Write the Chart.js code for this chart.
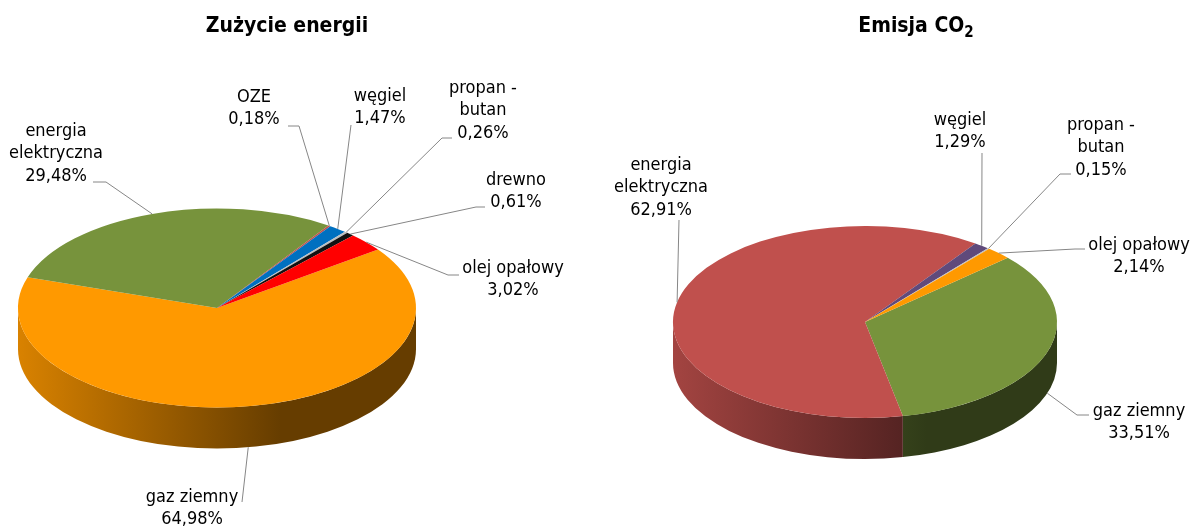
<!DOCTYPE html>
<html lang="pl">
<head>
<meta charset="utf-8">
<title>Zużycie energii i emisja CO2</title>
<script src="https://cdn.jsdelivr.net/npm/chart.js@4"></script>
<style>
    html, body { margin: 0; padding: 0; background: #fff; }
    #page { position: relative; width: 1193px; height: 527px; overflow: hidden; }
    canvas { position: absolute; top: 0; }
    #energyChart { left: 0; }
    #co2Chart { left: 596px; }
    .title {
        position: absolute;
        top: 13px;
        transform: translateX(-50%);
        font: bold 21px "DejaVu Sans Condensed", "DejaVu Sans", sans-serif;
        color: #000;
        white-space: nowrap;
        line-height: 24px;
    }
    .title sub { font-size: 15px; line-height: 0; }
</style>
</head>
<body>
<div id="page">
    <canvas id="energyChart" width="596" height="527"></canvas>
    <canvas id="co2Chart" width="597" height="527"></canvas>
    <div class="title" style="left:287px">Zużycie energii</div>
    <div class="title" style="left:916px">Emisja CO<sub>2</sub></div>
</div>

<script>
// Data (percent)
const energyLabels = [["gaz ziemny"], ["energia", "elektryczna"], ["OZE"], ["węgiel"], ["propan -", "butan"], ["drewno"], ["olej opałowy"]];
const energyValues = [64.98, 29.48, 0.18, 1.47, 0.26, 0.61, 3.02];
const energyColors = ["#ff9900", "#77933c", "#c0504d", "#0070c0", "#bfbfbf", "#111111", "#ff0000"];

const co2Labels = [["gaz ziemny"], ["energia", "elektryczna"], ["węgiel"], ["propan -", "butan"], ["olej opałowy"]];
const co2Values = [33.51, 62.91, 1.29, 0.15, 2.14];
const co2Colors = ["#77933c", "#c0504d", "#604a7b", "#bfbfbf", "#ff9900"];

// Where each label sits on the canvas: text centre, first line y, leader start and elbow
const energyLabelPos = [
    { x: 192, y: 497, lineX: 242, lineY: 502 },
    { x: 56, y: 131, lineX: 93, lineY: 182, elbowX: 106 },
    { x: 254, y: 97, lineX: 288, lineY: 126, elbowX: 299 },
    { x: 380, y: 96, lineX: 351, lineY: 125 },
    { x: 483, y: 88, lineX: 452, lineY: 138, elbowX: 442 },
    { x: 516, y: 180, lineX: 485, lineY: 207, elbowX: 476 },
    { x: 513, y: 268, lineX: 459, lineY: 275, elbowX: 448 }
];
const co2LabelPos = [
    { x: 543, y: 411, lineX: 493, lineY: 415, elbowX: 481 },
    { x: 65, y: 165, lineX: 83, lineY: 220 },
    { x: 364, y: 120, lineX: 386, lineY: 153 },
    { x: 505, y: 125, lineX: 475, lineY: 174, elbowX: 464 },
    { x: 543, y: 245, lineX: 489, lineY: 249, elbowX: 479 }
];

function shade(hex, f) {
    const n = parseInt(hex.slice(1), 16);
    const r = Math.round((n >> 16) * f);
    const g = Math.round(((n >> 8) & 255) * f);
    const b = Math.round((n & 255) * f);
    return "rgb(" + r + "," + g + "," + b + ")";
}

// Tilts the pie: draws the side wall, then lets the library draw the arcs squashed
const pie3d = {
    id: "pie3d",
    beforeDatasetsDraw(chart, args, opts) {
        const ctx = chart.ctx;
        const arcs = chart.getDatasetMeta(0).data;
        const cx = arcs[0].x, cy = arcs[0].y, r = arcs[0].outerRadius;
        const ry = r * opts.squash;

        arcs.forEach((arc) => {
            const color = arc.options.backgroundColor;
            const grad = ctx.createLinearGradient(cx - r, 0, cx + r, 0);
            grad.addColorStop(0, shade(color, 0.85));
            grad.addColorStop(0.66, shade(color, 0.4));
            grad.addColorStop(1, shade(color, 0.4));

            // only the front half of the rim can be seen
            [-2, 0, 2].forEach((turn) => {
                const a0 = Math.max(arc.startAngle + turn * Math.PI, 0);
                const a1 = Math.min(arc.endAngle + turn * Math.PI, Math.PI);
                if (a1 <= a0) return;
                ctx.beginPath();
                ctx.ellipse(cx, cy, r, ry, 0, a0, a1);
                ctx.ellipse(cx, cy + opts.depth, r, ry, 0, a1, a0, true);
                ctx.closePath();
                ctx.fillStyle = grad;
                ctx.fill();
            });
        });

        ctx.save();
        ctx.translate(0, cy * (1 - opts.squash));
        ctx.scale(1, opts.squash);
    },
    afterDatasetsDraw(chart) {
        chart.ctx.restore();
    },
    afterDraw(chart, args, opts) {
        const ctx = chart.ctx;
        const meta = chart.getDatasetMeta(0);
        const values = chart.data.datasets[0].data;

        meta.data.forEach((arc, i) => {
            const pos = opts.labelPos[i];
            const mid = (arc.startAngle + arc.endAngle) / 2;
            const ex = arc.x + arc.outerRadius * Math.cos(mid);
            let ey = arc.y + arc.outerRadius * opts.squash * Math.sin(mid);
            if (Math.sin(mid) > 0.1) ey += opts.depth;

            ctx.strokeStyle = "#868686";
            ctx.lineWidth = 1;
            ctx.beginPath();
            ctx.moveTo(pos.lineX, pos.lineY);
            if (pos.elbowX) ctx.lineTo(pos.elbowX, pos.lineY);
            ctx.lineTo(ex, ey);
            ctx.stroke();

            const lines = chart.data.labels[i].concat(values[i].toFixed(2).replace(".", ",") + "%");
            ctx.font = "18px 'DejaVu Sans Condensed', 'DejaVu Sans', sans-serif";
            ctx.fillStyle = "#000";
            ctx.textAlign = "center";
            ctx.textBaseline = "middle";
            lines.forEach((line, n) => ctx.fillText(line, pos.x, pos.y + n * 22.5));
        });
    }
};

function makePie(canvasId, labels, values, colors, rotation, padding, labelPos) {
    const ctx = document.getElementById(canvasId).getContext("2d");
    return new Chart(ctx, {
        type: "pie",
        data: {
            labels: labels,
            datasets: [{
                data: values,
                backgroundColor: colors,
                borderWidth: 0,
                clip: false
            }]
        },
        options: {
            responsive: false,
            animation: false,
            rotation: rotation,
            events: [],
            layout: { padding: padding },
            plugins: {
                legend: { display: false },
                tooltip: { enabled: false },
                pie3d: { squash: 0.5, depth: 41, labelPos: labelPos }
            }
        },
        plugins: [pie3d]
    });
}

makePie("energyChart", energyLabels, energyValues, energyColors, 54,
    { left: 18, right: 180, top: 109, bottom: 20 }, energyLabelPos);
makePie("co2Chart", co2Labels, co2Values, co2Colors, 48,
    { left: 77, right: 136, top: 130, bottom: 13 }, co2LabelPos);
</script>
</body>
</html>
